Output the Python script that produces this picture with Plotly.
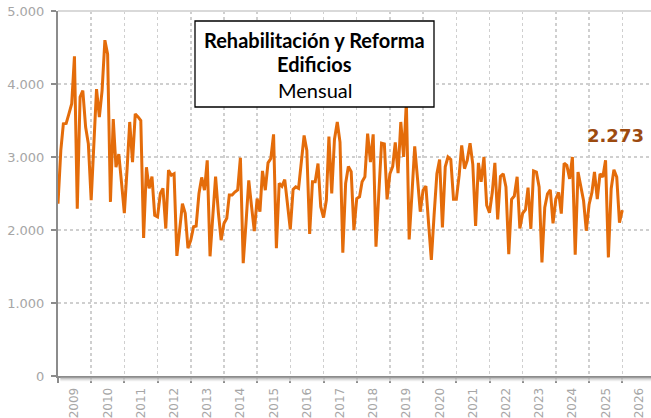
import plotly.graph_objects as go
import pandas as pd

# Monthly values, Jan 2009 .. Jan 2026
v2009 = [2360, 3090, 3455, 3460, 3590, 3730, 4380, 2290, 3820, 3910, 3410, 3180]
v2010 = [2410, 3150, 3930, 3545, 3910, 4600, 4410, 2385, 3520, 2860, 3040, 2650]
v2011 = [2230, 2850, 3480, 2930, 3590, 3550, 3500, 1890, 2860, 2570, 2730, 2200]
v2012 = [2180, 2500, 2570, 2020, 2820, 2750, 2770, 1645, 2000, 2360, 2230, 1750]
v2013 = [1860, 2045, 2055, 2500, 2720, 2545, 2955, 1640, 2200, 2730, 2230, 1860]
v2014 = [2090, 2160, 2480, 2480, 2520, 2550, 2990, 1545, 2100, 2680, 2320, 1985]
v2015 = [2430, 2250, 2810, 2545, 2920, 2980, 3310, 1750, 2640, 2600, 2690, 2350]
v2016 = [2010, 2555, 2590, 2570, 2980, 3295, 3090, 1945, 2660, 2660, 2910, 2320]
v2017 = [2170, 2410, 3280, 2500, 3240, 3480, 3205, 1690, 2640, 2870, 2800, 2000]
v2018 = [2430, 2455, 2660, 2730, 3320, 2930, 3310, 1770, 2500, 3190, 3180, 2420]
v2019 = [2770, 2870, 3200, 2780, 3480, 3000, 3750, 1870, 2500, 3145, 2700, 2250]
v2020 = [2545, 2600, 2100, 1590, 2200, 2770, 2965, 2035, 2865, 3000, 2965, 2420]
v2021 = [2420, 2750, 3160, 2840, 2955, 3190, 2900, 2055, 2920, 2660, 3000, 2340]
v2022 = [2235, 2520, 2920, 2145, 2735, 2770, 2590, 1670, 2420, 2465, 2730, 2020]
v2023 = [2230, 2280, 2580, 2015, 2810, 2795, 2590, 1555, 2310, 2495, 2550, 2090]
v2024 = [2425, 2515, 2225, 2915, 2885, 2700, 3000, 1660, 2795, 2595, 2400, 1990]
v2025 = [2350, 2515, 2795, 2425, 2770, 2725, 2955, 1625, 2565, 2825, 2725, 2100]
v2026 = [2273]

values = (v2009 + v2010 + v2011 + v2012 + v2013 + v2014 + v2015 + v2016 + v2017
          + v2018 + v2019 + v2020 + v2021 + v2022 + v2023 + v2024 + v2025 + v2026)
dates = pd.date_range("2009-01-01", periods=len(values), freq="MS")

title_lines = ["Rehabilitación y Reforma", "Edificios", "Mensual"]
last_label = "2.273"

LINE = "#E46C0A"
GRID = "#CFCFCF"
TICKC = "#A6A6A6"

fig = go.Figure()
fig.add_trace(go.Scatter(x=dates, y=values, mode="lines",
                         line=dict(color=LINE, width=3), hoverinfo="skip"))

# body margin removed below: plot area at page x 58..651, y 11..376
fig.update_layout(
    width=651, height=418,
    margin=dict(l=58, r=0, t=11, b=42, autoexpand=False),
    paper_bgcolor="white", plot_bgcolor="white",
    separators=",.",
    showlegend=False,
    font=dict(family="DejaVu Sans", color=TICKC),
)
fig.update_xaxes(
    type="date", range=["2009-01-01", "2026-11-13"], automargin=False,
    dtick="M12", tick0="2009-01-01", tickformat="%Y", ticklabelmode="period",
    tickangle=-90, tickfont=dict(size=12, color=TICKC),
    showgrid=True, gridcolor=GRID, gridwidth=1.5, griddash="dot",
    showline=True, linecolor="#8C8C8C", linewidth=2,
    ticks="outside", ticklen=5, tickwidth=2, tickcolor="#8C8C8C",
    zeroline=False, ticklabeloverflow="allow",
)
fig.update_yaxes(
    range=[0, 5000], dtick=1000, tickformat=",.0f", automargin=False,
    tickfont=dict(size=13, color=TICKC),
    showgrid=True, gridcolor=GRID, gridwidth=1.5, griddash="dot",
    showline=True, linecolor="#8C8C8C", linewidth=2,
    ticks="outside", ticklen=5, tickwidth=2, tickcolor="#8C8C8C",
    ticklabelstandoff=4, zeroline=False, ticklabeloverflow="allow",
)

# top border line at 5.000 and shadow under x axis
fig.add_shape(type="line", xref="paper", yref="paper", x0=0, x1=1, y0=1, y1=1,
              line=dict(color="#D9D9D9", width=2))
for i, c in enumerate(["#A0A0A0", "#BDBDBD", "#D6D6D6", "#EAEAEA"]):
    fig.add_shape(type="line", xref="paper", yref="paper",
                  x0=0.004, x1=1, y0=-0.0045 - i * 0.0028, y1=-0.0045 - i * 0.0028,
                  line=dict(color=c, width=1))

# title box
fig.add_shape(type="rect", xref="paper", yref="paper",
              x0=(195 - 58) / 593, x1=(434 - 58) / 593,
              y0=(376 - 107) / 365, y1=(376 - 21) / 365,
              line=dict(color="black", width=1.3), fillcolor="white", layer="above")
cx = ((195 + 434) / 2 - 58) / 593
fig.add_annotation(xref="paper", yref="paper", x=cx, y=(376 - 40) / 365,
                   text="<b>" + title_lines[0] + "</b>", showarrow=False,
                   xanchor="center", yanchor="middle",
                   font=dict(family="Lato", size=20, color="black"))
fig.add_annotation(xref="paper", yref="paper", x=cx, y=(376 - 64) / 365,
                   text="<b>" + title_lines[1] + "</b>", showarrow=False,
                   xanchor="center", yanchor="middle",
                   font=dict(family="Lato", size=20, color="black"))
fig.add_annotation(xref="paper", yref="paper", x=cx, y=(376 - 90) / 365,
                   text=title_lines[2], showarrow=False,
                   xanchor="center", yanchor="middle",
                   font=dict(family="Lato", size=20, color="black"))

# last value label
fig.add_annotation(xref="paper", yref="paper", x=(615 - 58) / 593, y=(376 - 135) / 365,
                   text="<b>" + last_label + "</b>", showarrow=False,
                   xanchor="center", yanchor="middle",
                   font=dict(family="DejaVu Sans", size=18, color="#9C4A10"))

fig.write_html("out.html", config={"displayModeBar": False, "staticPlot": True},
               post_script="document.body.style.margin='0px';document.body.style.overflow='hidden';")
